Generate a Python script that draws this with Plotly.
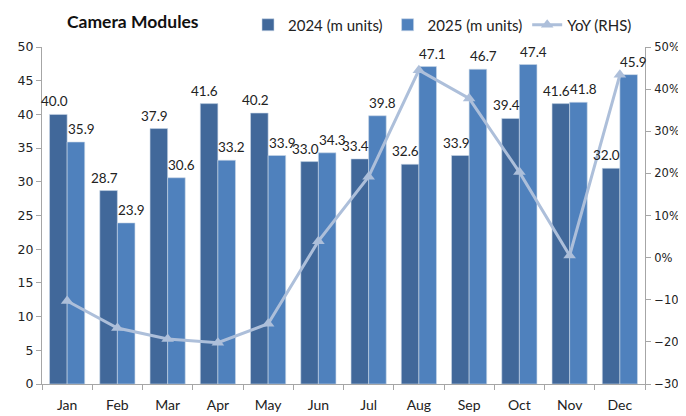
import plotly.graph_objects as go

months = ["Jan", "Feb", "Mar", "Apr", "May", "Jun", "Jul", "Aug", "Sep", "Oct", "Nov", "Dec"]
units_2024 = [40.0, 28.7, 37.9, 41.6, 40.2, 33.0, 33.4, 32.6, 33.9, 39.4, 41.6, 32.0]
units_2025 = [35.9, 23.9, 30.6, 33.2, 33.9, 34.3, 39.8, 47.1, 46.7, 47.4, 41.8, 45.9]
yoy_pct = [-10.3, -16.7, -19.3, -20.2, -15.7, 3.9, 19.2, 44.5, 37.8, 20.3, 0.5, 43.4]

c2024 = "#41689A"
c2025 = "#4F81BD"
cyoy = "#ADBFDA"
TXT = "Lato, Liberation Sans, Arial"
label_font = dict(family=TXT, size=13.5, color="#222222")

# page body has an 8px margin, so the figure is 8px smaller and coordinates shifted by 8
OFF = 8
W, H = 686 - OFF, 416 - OFF
L, R, T, B = 42 - OFF, 645 - OFF, 47 - OFF, 384 - OFF

fig = go.Figure()
fig.add_trace(go.Bar(
    x=months, y=units_2024, name="2024 (m units)",
    marker=dict(color=c2024, line=dict(color="#C9D6E8", width=0.6)),
))
fig.add_trace(go.Bar(
    x=months, y=units_2025, name="2025 (m units)",
    marker=dict(color=c2025, line=dict(color="#C9D6E8", width=0.6)),
))
fig.add_trace(go.Scatter(
    x=months, y=yoy_pct, name="YoY (RHS)", yaxis="y2", mode="lines+markers",
    line=dict(color=cyoy, width=3),
    marker=dict(symbol="triangle-up", size=11, color=cyoy),
))

# data labels, spread slightly apart like the original
for m, v in zip(months, units_2024):
    fig.add_annotation(x=m, y=v, xref="x", yref="y", text=f"{v:.1f}", showarrow=False,
                       xanchor="center", yanchor="bottom", xshift=-13, yshift=3,
                       font=label_font)
for m, v in zip(months, units_2025):
    fig.add_annotation(x=m, y=v, xref="x", yref="y", text=f"{v:.1f}", showarrow=False,
                       xanchor="center", yanchor="bottom", xshift=14, yshift=3,
                       font=label_font)

axis_font = dict(family="DejaVu Sans", size=12.5, color="#222222")
axis2_font = dict(family="DejaVu Sans", size=11.5, color="#222222")
fig.update_layout(
    width=W, height=H,
    margin=dict(l=L, r=W - R, t=T, b=H - B, autoexpand=False),
    plot_bgcolor="white", paper_bgcolor="white",
    barmode="group", bargap=0.3, bargroupgap=0.0,
    showlegend=True,
    legend=dict(orientation="h", xref="container", yref="container",
                x=(248 - OFF) / W, y=1 - (25 - OFF) / H,
                xanchor="left", yanchor="middle",
                font=dict(family=TXT, size=15, color="#222222"),
                bgcolor="rgba(0,0,0,0)", itemwidth=30, tracegroupgap=0),
    xaxis=dict(range=[-0.5, len(months) - 0.5], showline=True, linecolor="#A6A6A6",
               linewidth=1, ticks="outside",
               tickson="boundaries", ticklen=5, tickcolor="#A6A6A6", automargin=False,
               ticklabelstandoff=8,
               tickfont=dict(family=TXT, size=14, color="#222222"),
               showgrid=False),
    yaxis=dict(range=[0, 50], dtick=5, showline=True, linecolor="#A6A6A6", linewidth=1,
               ticks="outside", ticklen=5, tickcolor="#A6A6A6", showgrid=False,
               tickfont=axis_font, zeroline=False, automargin=False),
    yaxis2=dict(range=[-30, 50], dtick=10, overlaying="y", side="right", ticksuffix="%",
                showline=True, linecolor="#A6A6A6", linewidth=1, ticks="outside", ticklen=5,
                tickcolor="#A6A6A6", showgrid=False, zeroline=False, tickfont=axis2_font,
                automargin=False, ticklabelstandoff=1),
)
fig.add_annotation(text="<b>Camera Modules</b>", xref="paper", yref="paper",
                   x=(65 - OFF - L) / (R - L), y=1 + (T - (21 - OFF)) / (B - T),
                   xanchor="left", yanchor="middle", showarrow=False,
                   font=dict(family=TXT, size=17.5, color="#111111"))

fig.write_html("out.html")
